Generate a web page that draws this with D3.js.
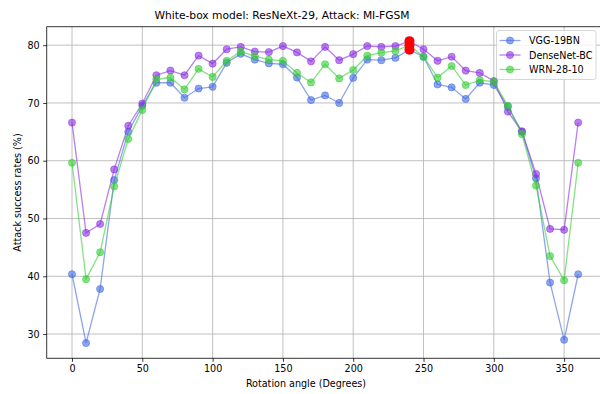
<!DOCTYPE html>
<html>
<head>
<meta charset="utf-8">
<script src="https://cdn.jsdelivr.net/npm/d3@7"></script>
<style>
  html, body { margin: 0; padding: 0; background: #fff; }
  svg { display: block; font-family: "DejaVu Sans", sans-serif; }
</style>
</head>
<body>
<svg id="chart" width="600" height="394"></svg>
<script>
// Rotation angles (degrees)
const angles = [0,10,20,30,40,50,60,70,80,90,100,110,120,130,140,150,160,170,180,
                190,200,210,220,230,240,250,260,270,280,290,300,310,320,330,340,350,360];

// Attack success rates (%) for each target model
const vgg19bn = [40.35,28.45,37.8,56.65,65.0,69.5,73.5,73.5,70.9,72.5,72.8,76.95,78.5,77.5,76.85,76.7,74.4,70.5,71.3,
                 70.0,74.35,77.5,77.4,77.8,79.2,78.0,73.2,72.7,70.7,73.5,73.1,69.35,65.0,56.95,38.9,29.0,40.35];
const densenetBC = [66.6,47.5,49.05,58.5,66.05,69.9,74.8,75.6,74.8,78.2,76.8,79.3,79.7,78.9,78.8,79.85,78.75,77.2,79.7,
                    77.4,78.45,79.85,79.7,79.85,80.7,79.3,77.3,78.0,75.6,75.2,73.8,68.5,65.1,57.7,48.2,48.05,66.6];
const wrn2810 = [59.65,39.5,44.15,55.55,63.75,68.8,74.1,74.4,72.35,75.9,74.5,77.3,78.9,78.1,77.5,77.3,75.2,73.55,76.7,
                 74.25,75.7,78.2,78.7,79.0,80.0,78.0,74.4,76.4,73.1,73.95,73.7,69.5,64.6,55.7,43.5,39.3,59.65];

const seriesNames = ["VGG-19BN", "DenseNet-BC", "WRN-28-10"];
const seriesColors = ["#4169e1", "#8a2be2", "#32cd32"];
const seriesValues = [vgg19bn, densenetBC, wrn2810];

// Angle whose results are highlighted in red
const highlightAngle = 240;

const xTicks = [0,50,100,150,200,250,300,350];
const yTicks = [30,40,50,60,70,80];

const titleText = "White-box model: ResNeXt-29, Attack: MI-FGSM";
const xLabel = "Rotation angle (Degrees)";
const yLabel = "Attack success rates (%)";

const svg = d3.select("#chart");
const plotLeft = 46.7, plotTop = 26.7, plotRight = 603.5, plotBottom = 358.3;

const x = d3.scaleLinear().domain([-18, 378]).range([plotLeft, plotRight]);
const y = d3.scaleLinear().domain([25.8, 83.2]).range([plotBottom, plotTop]);

const fs = 9.6;
const gridColor = "#b0b0b0";

// grid
const grid = svg.append("g");
grid.selectAll(".gx").data(xTicks).enter().append("line")
  .attr("x1", d => x(d)).attr("x2", d => x(d))
  .attr("y1", plotTop).attr("y2", plotBottom)
  .attr("stroke", gridColor).attr("stroke-width", 0.8);
grid.selectAll(".gy").data(yTicks).enter().append("line")
  .attr("x1", plotLeft).attr("x2", plotRight)
  .attr("y1", d => y(d)).attr("y2", d => y(d))
  .attr("stroke", gridColor).attr("stroke-width", 0.8);

// series lines and markers
const line = d3.line().x((d, i) => x(angles[i])).y(d => y(d));
seriesValues.forEach((vals, s) => {
  const g = svg.append("g");
  g.append("path").datum(vals)
    .attr("d", line)
    .attr("fill", "none")
    .attr("stroke", seriesColors[s])
    .attr("stroke-opacity", 0.6)
    .attr("stroke-width", 1.3);
  g.selectAll("circle").data(vals).enter().append("circle")
    .attr("cx", (d, i) => x(angles[i]))
    .attr("cy", d => y(d))
    .attr("r", 3.6)
    .attr("fill", seriesColors[s])
    .attr("fill-opacity", 0.6)
    .attr("stroke", seriesColors[s])
    .attr("stroke-opacity", 0.6)
    .attr("stroke-width", 0.8);
});

// highlighted points
const hi = angles.indexOf(highlightAngle);
svg.append("g").selectAll("circle").data(seriesValues.map(v => v[hi])).enter().append("circle")
  .attr("cx", x(highlightAngle))
  .attr("cy", d => y(d))
  .attr("r", 5)
  .attr("fill", "#ff0000");

// spines
svg.append("line").attr("x1", plotLeft).attr("x2", plotLeft).attr("y1", plotTop).attr("y2", plotBottom)
  .attr("stroke", "#000").attr("stroke-width", 0.8);
svg.append("line").attr("x1", plotLeft).attr("x2", plotRight).attr("y1", plotBottom).attr("y2", plotBottom)
  .attr("stroke", "#000").attr("stroke-width", 0.8);
svg.append("line").attr("x1", plotLeft).attr("x2", plotRight).attr("y1", plotTop).attr("y2", plotTop)
  .attr("stroke", "#000").attr("stroke-width", 0.8);

// axes
const xAxis = d3.axisBottom(x).tickValues(xTicks).tickSize(3.5).tickPadding(3.5);
const yAxis = d3.axisLeft(y).tickValues(yTicks).tickSize(3.5).tickPadding(3.5);
const gx = svg.append("g").attr("transform", `translate(0,${plotBottom})`).call(xAxis);
const gy = svg.append("g").attr("transform", `translate(${plotLeft},0)`).call(yAxis);
[gx, gy].forEach(g => {
  g.select(".domain").remove();
  g.selectAll("line").attr("stroke", "#000").attr("stroke-width", 0.8);
  g.selectAll("text").attr("font-size", fs).attr("fill", "#000")
    .attr("font-family", "DejaVu Sans, sans-serif");
});

// title and axis labels
svg.append("text").attr("x", 282).attr("y", 19)
  .attr("text-anchor", "middle").attr("font-size", 10.7).attr("fill", "#000").text(titleText);
svg.append("text").attr("x", 306).attr("y", 387)
  .attr("text-anchor", "middle").attr("font-size", fs).attr("fill", "#000").text(xLabel);
svg.append("text").attr("transform", `translate(20.5,${(plotTop + plotBottom) / 2}) rotate(-90)`)
  .attr("text-anchor", "middle").attr("font-size", fs).attr("fill", "#000").text(yLabel);

// legend
const lg = svg.append("g");
lg.append("rect").attr("x", 496.5).attr("y", 30.5).attr("width", 99.5).attr("height", 49)
  .attr("rx", 2.5).attr("fill", "#fff").attr("fill-opacity", 0.8)
  .attr("stroke", "#cccccc").attr("stroke-width", 0.8);
seriesNames.forEach((name, s) => {
  const yy = 40.5 + s * 14.5;
  lg.append("line").attr("x1", 499.5).attr("x2", 520.5).attr("y1", yy).attr("y2", yy)
    .attr("stroke", seriesColors[s]).attr("stroke-opacity", 0.6).attr("stroke-width", 1.3);
  lg.append("circle").attr("cx", 510).attr("cy", yy).attr("r", 3.6)
    .attr("fill", seriesColors[s]).attr("fill-opacity", 0.6)
    .attr("stroke", seriesColors[s]).attr("stroke-opacity", 0.6).attr("stroke-width", 0.8);
  lg.append("text").attr("x", 529).attr("y", yy + 3.5)
    .attr("font-size", fs).attr("fill", "#000").text(name);
});
</script>
</body>
</html>
